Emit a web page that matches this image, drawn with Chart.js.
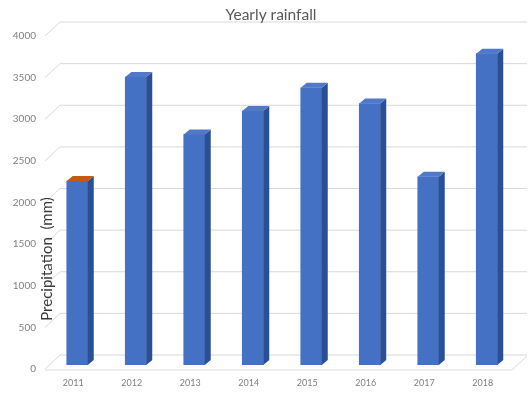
<!DOCTYPE html>
<html>
<head>
<meta charset="utf-8">
<script src="https://cdn.jsdelivr.net/npm/chart.js@4"></script>
<style>
  html, body { margin: 0; padding: 0; background: #fff; }
  #wrap { width: 529px; height: 395px; position: relative; }
</style>
</head>
<body>
<div id="wrap"><canvas id="rainChart"></canvas></div>
<script>
const years = ['2011', '2012', '2013', '2014', '2015', '2016', '2017', '2018'];
const rainfall = [2210, 3460, 2770, 3050, 3330, 3140, 2260, 3740];
const yTicks = [0, 500, 1000, 1500, 2000, 2500, 3000, 3500, 4000];

// fake 3D look: back wall grid, floor, side + top faces of bars
const depth3d = {
    id: 'depth3d',
    beforeDatasetsDraw(chart) {
        const ctx = chart.ctx;
        const y = chart.scales.y;
        const fx = 45, bx = 60, rx = 527, dy = 14;
        ctx.save();
        ctx.strokeStyle = '#d9d9d9';
        ctx.lineWidth = 1;
        yTicks.forEach(v => {
            const fy = y.getPixelForValue(v) + 4;
            ctx.beginPath();
            ctx.moveTo(fx, fy);
            ctx.lineTo(bx, fy - dy);
            ctx.lineTo(rx, fy - dy);
            ctx.stroke();
        });
        // floor front edge
        const f0 = y.getPixelForValue(0) + 5;
        ctx.beginPath();
        ctx.moveTo(fx, f0);
        ctx.lineTo(512, f0);
        ctx.lineTo(rx, f0 - dy);
        ctx.stroke();
        ctx.restore();
    },
    afterDatasetsDraw(chart) {
        const ctx = chart.ctx;
        const meta = chart.getDatasetMeta(0);
        const dx = 6, dy = 5;
        ctx.save();
        meta.data.forEach((bar, i) => {
            const half = bar.width / 2;
            const l = bar.x - half, r = bar.x + half;
            const t = bar.y, b = bar.base;
            ctx.fillStyle = '#2b4f93';
            ctx.beginPath();
            ctx.moveTo(r, t);
            ctx.lineTo(r + dx, t - dy);
            ctx.lineTo(r + dx, b - dy);
            ctx.lineTo(r, b);
            ctx.closePath();
            ctx.fill();
            ctx.fillStyle = i === 0 ? '#c55a11' : '#5278c8';
            ctx.beginPath();
            ctx.moveTo(l, t);
            ctx.lineTo(l + dx, t - dy);
            ctx.lineTo(r + dx, t - dy);
            ctx.lineTo(r, t);
            ctx.closePath();
            ctx.fill();
        });
        ctx.restore();
    },
    afterDraw(chart) {
        const ctx = chart.ctx;
        ctx.save();
        // chart title
        ctx.fillStyle = '#595959';
        ctx.font = '15.5px Lato';
        ctx.textAlign = 'center';
        ctx.textBaseline = 'middle';
        ctx.fillText('Yearly rainfall', 271, 15);
        // y axis title
        ctx.translate(47, 259);
        ctx.rotate(-Math.PI / 2);
        ctx.fillStyle = '#3a3a3a';
        ctx.font = '15px Lato';
        ctx.fillText('Precipitation  (mm)', 0, 0);
        ctx.restore();
    }
};

const rainCtx = document.getElementById('rainChart');
new Chart(rainCtx, {
    type: 'bar',
    data: {
        labels: years,
        datasets: [{
            label: 'Precipitation (mm)',
            data: rainfall,
            backgroundColor: '#4471c4',
            borderWidth: 0,
            barThickness: 21
        }]
    },
    options: {
        responsive: true,
        maintainAspectRatio: false,
        animation: false,
        layout: { padding: { top: 32, right: 13 } },
        plugins: {
            legend: { display: false },
            tooltip: { enabled: false },
            title: { display: false }
        },
        scales: {
            x: {
                grid: { display: false, drawTicks: false },
                border: { display: false },
                ticks: {
                    color: '#7f7f7f',
                    font: { family: 'Lato', size: 9 },
                    padding: 13,
                    labelOffset: -4,
                    maxRotation: 0
                },
                afterFit(scale) { scale.height = 30; }
            },
            y: {
                min: 0,
                max: 4000,
                grid: { display: false, drawTicks: false },
                border: { display: false },
                ticks: {
                    stepSize: 500,
                    color: '#7f7f7f',
                    font: { family: 'Lato', size: 10 },
                    padding: 12,
                    labelOffset: 4,
                    callback: v => String(v)
                },
                afterFit(scale) { scale.width = 48; }
            }
        }
    },
    plugins: [depth3d]
});
</script>
</body>
</html>
